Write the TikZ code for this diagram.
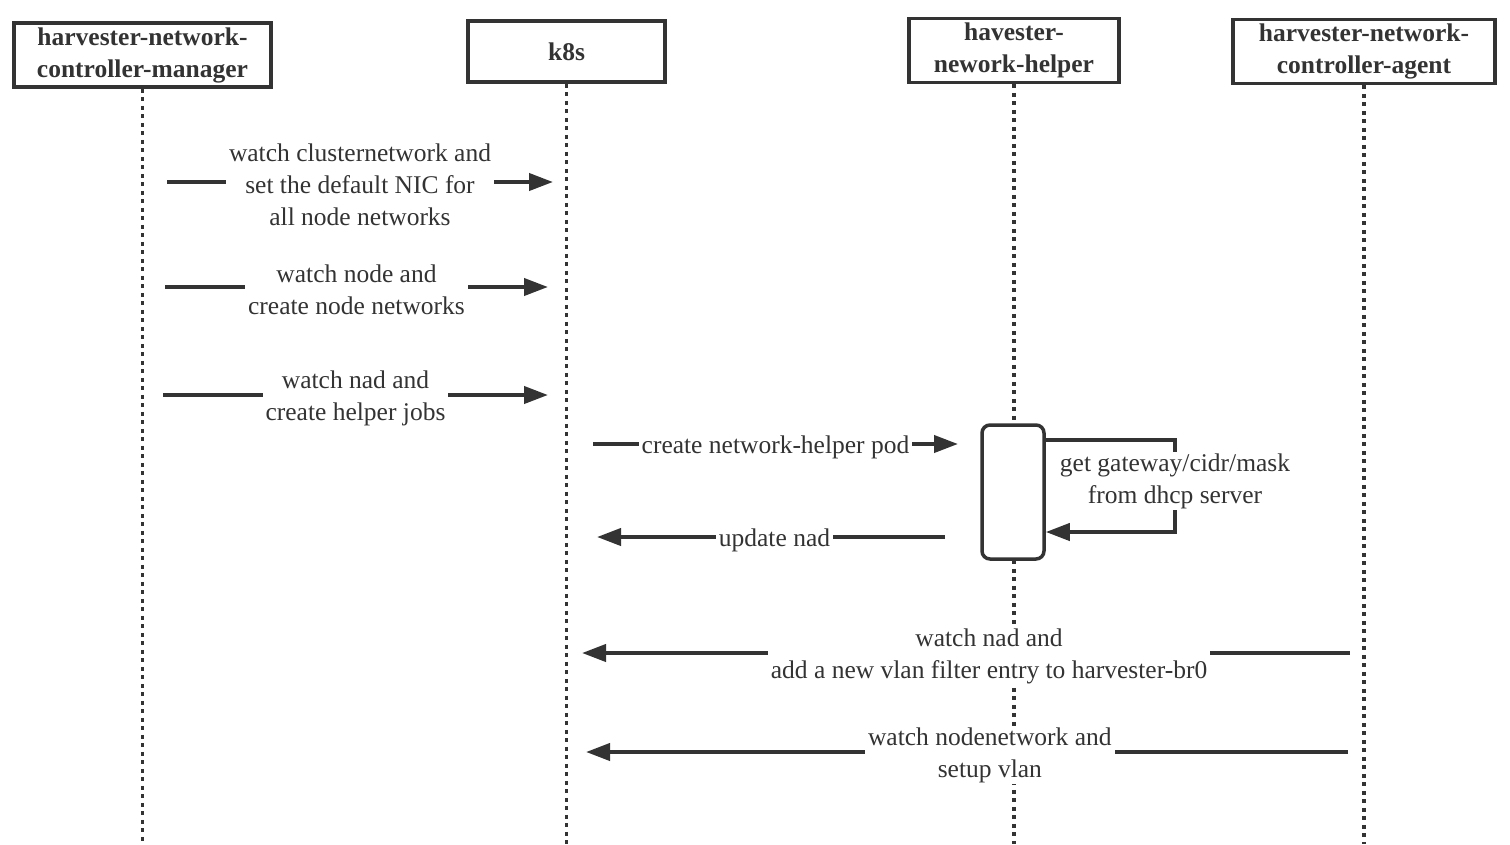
\documentclass[tikz,border=0pt]{standalone}
\usepackage{fontspec}
\setmainfont{Liberation Serif}
\usetikzlibrary{arrows.meta}
\definecolor{ink}{RGB}{51,51,51}
\tikzset{
  head/.style = {draw=ink, line width=3.5pt, font=\bfseries\fontsize{25.5}{32}\selectfont, text=ink, align=center, inner sep=0pt},
  life/.style = {ink, line width=3.5pt, dash pattern=on 4pt off 4.5pt},
  msg/.style = {ink, line width=4pt, -{Triangle[length=24pt,width=17pt]}},
  lbl/.style = {fill=white, text=ink, align=center, inner xsep=3pt, inner ysep=1pt, yshift=-3pt, font=\fontsize{25.5}{32}\selectfont},
}

\begin{document}
\begin{tikzpicture}[x=1pt,y=-1pt]
  \useasboundingbox (0,0) rectangle (1510,844);
  % participants
  \node[head, minimum width=257pt, minimum height=62pt] (mgr) at (142.5,55) {\raisebox{-3pt}{\begin{tabular}{@{}c@{}}harvester-network-\\controller-manager\end{tabular}}};
  \node[head, minimum width=197pt, minimum height=61pt] (k8s) at (566.5,51.5) {k8s};
  \node[head, minimum width=210pt, minimum height=61pt] (helper) at (1014,50.5) {\raisebox{-3pt}{\begin{tabular}{@{}c@{}}havester-\\nework-helper\end{tabular}}};
  \node[head, minimum width=262pt, minimum height=61pt] (agent) at (1364,51.5) {\raisebox{-3pt}{\begin{tabular}{@{}c@{}}harvester-network-\\controller-agent\end{tabular}}};
  % lifelines
  \foreach \n in {mgr,k8s,helper,agent} {%
    \draw[life] (\n.south) -- (\n.south |- 0,844);
  }
  % manager -> k8s
  \foreach \y/\xa/\xb/\txt in {182/167/553/{watch clusternetwork and\\set the default NIC for\\all node networks},
                                287/165/548/{watch node and\\create node networks},
                                395/163/548/{watch nad and\\create helper jobs}} {%
    \coordinate (from) at (\xa,\y);
    \coordinate (to) at (\xb,\y);
    \draw[msg] (from) -- node[lbl] {\txt} (to);
  }
  % helper pod
  \node[draw=ink, line width=3.5pt, fill=white, rounded corners=8pt, minimum width=62pt, minimum height=134pt] (act) at (1013,492) {};
  \coordinate (podS) at (593,444);
  \coordinate (podE) at (958,444);
  \draw[msg] (podS) -- node[lbl] {create network-helper pod} (podE);
  \coordinate (selfA) at (1175,440);
  \coordinate (selfB) at (1175,532);
  \draw[msg] (act.east |- selfA) -- (selfA) -- node[lbl, yshift=8pt] {get gateway/cidr/mask\\from dhcp server} (selfB) -- (act.east |- selfB);
  \coordinate (updS) at (945,537);
  \coordinate (updE) at (597,537);
  \draw[msg] (updS) -- node[lbl, pos=0.49] {update nad} (updE);
  % agent -> k8s
  \foreach \y/\xa/\xb/\txt in {653/1350/582/{watch nad and\\add a new vlan filter entry to harvester-br0},
                                752/1348/586/{watch nodenetwork and\\setup vlan}} {%
    \coordinate (from) at (\xa,\y);
    \coordinate (to) at (\xb,\y);
    \draw[msg] (from) -- node[lbl, pos=0.47] {\txt} (to);
  }
\end{tikzpicture}
\end{document}
